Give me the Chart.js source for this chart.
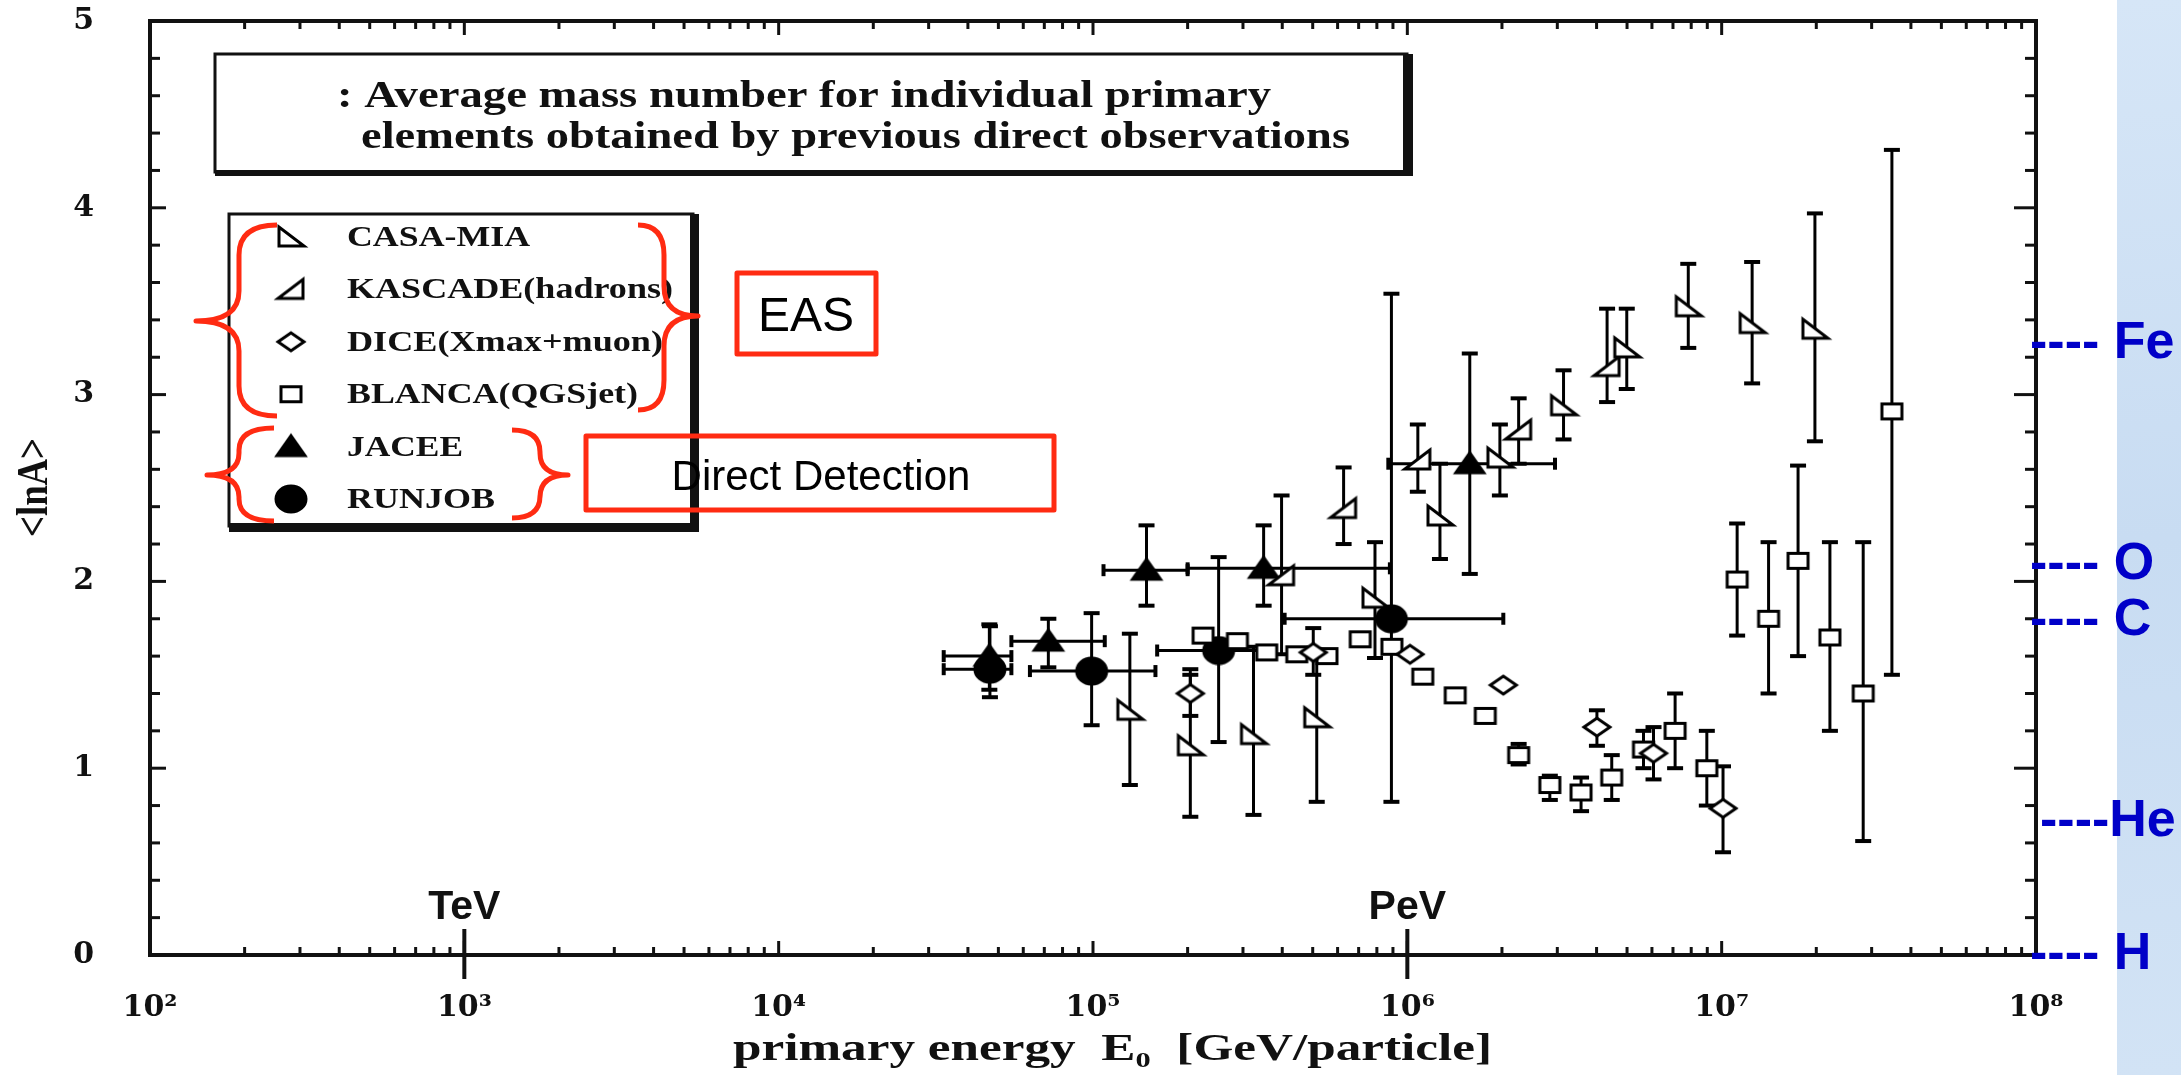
<!DOCTYPE html>
<html lang="en">
<head>
<meta charset="UTF-8">
<title>Average mass number vs primary energy</title>
<style>
  html, body { margin: 0; padding: 0; background: #fff; }
  #wrap { width: 2181px; height: 1075px; position: relative; }
</style>
</head>
<body>
<div id="wrap"><canvas id="myChart"></canvas></div>
<script src="https://cdn.jsdelivr.net/npm/chart.js"></script>
<script>
// energies in GeV/particle, values are <lnA>
const casaE   = [1.31e5, 2.04e5, 3.24e5, 5.15e5, 7.89e5, 1.27e6, 1.97e6, 3.14e6, 4.99e6, 7.83e6, 1.25e7, 1.98e7];
const casaLnA = [1.31, 1.12, 1.18, 1.27, 1.91, 2.35, 2.66, 2.94, 3.25, 3.47, 3.38, 3.35];
const casaLo  = [0.91, 0.74, 0.75, 0.82, 1.59, 2.12, 2.46, 2.76, 3.03, 3.25, 3.06, 2.75];
const casaHi  = [1.72, 1.50, 1.65, 1.62, 2.21, 2.63, 2.84, 3.13, 3.46, 3.70, 3.71, 3.97];

const kascadeE   = [3.98e5, 6.27e5, 1.08e6, 2.26e6, 4.32e6];
const kascadeLnA = [2.03, 2.39, 2.65, 2.81, 3.15];
const kascadeLo  = [1.61, 2.20, 2.48, 2.63, 2.96];
const kascadeHi  = [2.46, 2.61, 2.84, 2.98, 3.46];

const diceE   = [2.04e5, 5.02e5, 1.02e6, 2.02e6, 4.01e6, 6.07e6, 1.01e7];
const diceLnA = [1.40, 1.62, 1.61, 1.445, 1.22, 1.08, 0.785];
const diceLo  = [1.28, 1.50, null, null, 1.12, 0.94, 0.55];
const diceHi  = [1.53, 1.75, null, null, 1.31, 1.22, 1.01];

const blancaE   = [2.24e5, 2.88e5, 3.57e5, 4.45e5, 5.55e5, 7.08e5, 8.93e5, 1.12e6, 1.42e6, 1.77e6, 2.26e6, 2.84e6,
                   3.57e6, 4.47e6, 5.64e6, 7.11e6, 8.97e6, 1.12e7, 1.41e7, 1.75e7, 2.21e7, 2.82e7, 3.48e7];
const blancaLnA = [1.71, 1.68, 1.62, 1.61, 1.60, 1.69, 1.65, 1.49, 1.39, 1.28, 1.07, 0.91,
                   0.87, 0.95, 1.10, 1.20, 1.00, 2.01, 1.80, 2.11, 1.70, 1.40, 2.91];
const blancaLo  = [null, null, null, null, null, null, null, null, null, null, 1.02, 0.83,
                   0.77, 0.83, 1.00, 1.00, 0.80, 1.71, 1.40, 1.60, 1.20, 0.61, 1.50];
const blancaHi  = [null, null, null, null, null, null, null, null, null, null, 1.13, 0.96,
                   0.95, 1.07, 1.20, 1.40, 1.20, 2.31, 2.21, 2.62, 2.21, 2.21, 4.31];

const jaceeE    = [4.68e4, 7.21e4, 1.48e5, 3.49e5, 1.58e6];
const jaceeLnA  = [1.60, 1.68, 2.06, 2.07, 2.63];
const jaceeEMin = [3.35e4, 5.5e4, 1.08e5, 2.0e5, 8.7e5];
const jaceeEMax = [5.5e4, 1.09e5, 2.0e5, 8.8e5, 2.95e6];
const jaceeLo   = [1.42, 1.54, 1.87, 1.87, 2.04];
const jaceeHi   = [1.77, 1.80, 2.30, 2.30, 3.22];

const runjobE    = [4.7e4, 9.9e4, 2.51e5, 8.9e5];
const runjobLnA  = [1.53, 1.52, 1.63, 1.80];
const runjobEMin = [3.35e4, 6.3e4, 1.6e5, 4.07e5];
const runjobEMax = [5.5e4, 1.58e5, 3.8e5, 2.02e6];
const runjobLo   = [1.38, 1.23, 1.14, 0.82];
const runjobHi   = [1.76, 1.83, 2.13, 3.54];

const seriesNames = ['CASA-MIA', 'KASCADE(hadrons)', 'DICE(Xmax+muon)', 'BLANCA(QGSjet)', 'JACEE', 'RUNJOB'];

const elementNames = ['Fe', 'O', 'C', 'He', 'H'];
const elementLnA   = [3.27, 2.09, 1.79, 0.71, 0];

const energyMarks = [1e3, 1e6];
const energyNames = ['TeV', 'PeV'];

const titleLines = [': Average mass number for individual primary',
                    'elements obtained by previous direct observations'];

const SERIF = '"Liberation Serif", "Times New Roman", serif';
const WIDE_SERIF = '"DejaVu Serif", serif';
const SANS = '"Liberation Sans", Arial, sans-serif';
const RED = '#ff2b12';
const BLUE = '#0000c8';

// open / filled marker shapes as small canvases
function marker(kind) {
  const c = document.createElement('canvas');
  c.width = 36; c.height = 30;
  const g = c.getContext('2d');
  const cx = 18, cy = 15;
  g.lineWidth = 3; g.strokeStyle = '#000'; g.fillStyle = '#fff';
  g.beginPath();
  if (kind === 'casa') {
    g.moveTo(cx - 12, cy - 10); g.lineTo(cx - 12, cy + 9); g.lineTo(cx + 13, cy + 9); g.closePath();
  } else if (kind === 'kascade') {
    g.moveTo(cx + 12, cy - 10); g.lineTo(cx + 12, cy + 9); g.lineTo(cx - 13, cy + 9); g.closePath();
  } else if (kind === 'dice') {
    g.moveTo(cx - 13, cy); g.lineTo(cx, cy - 9); g.lineTo(cx + 13, cy); g.lineTo(cx, cy + 9); g.closePath();
  } else if (kind === 'blanca') {
    g.rect(cx - 10, cy - 7.5, 20, 15);
  } else if (kind === 'jacee') {
    g.fillStyle = '#000';
    g.moveTo(cx, cy - 11); g.lineTo(cx + 14, cy + 9); g.lineTo(cx - 14, cy + 9); g.closePath();
  } else {
    g.fillStyle = '#000';
    g.ellipse(cx, cy, 15, 13, 0, 0, Math.PI * 2);
  }
  g.fill();
  g.stroke();
  return c;
}

function pts(e, v, lo, hi, eMin, eMax) {
  return e.map((x, i) => ({
    x: x, y: v[i],
    yMin: lo[i], yMax: hi[i],
    xMin: eMin ? eMin[i] : null, xMax: eMax ? eMax[i] : null
  }));
}

const shapes = ['casa', 'kascade', 'dice', 'blanca', 'jacee', 'runjob'];
const allData = [
  pts(casaE, casaLnA, casaLo, casaHi),
  pts(kascadeE, kascadeLnA, kascadeLo, kascadeHi),
  pts(diceE, diceLnA, diceLo, diceHi),
  pts(blancaE, blancaLnA, blancaLo, blancaHi),
  pts(jaceeE, jaceeLnA, jaceeLo, jaceeHi, jaceeEMin, jaceeEMax),
  pts(runjobE, runjobLnA, runjobLo, runjobHi, runjobEMin, runjobEMax)
];

function line(ctx, x0, y0, x1, y1) {
  ctx.beginPath(); ctx.moveTo(x0, y0); ctx.lineTo(x1, y1); ctx.stroke();
}

// draw text pieces squeezed/stretched to a given width (scanned lettering is wide)
function fitText(ctx, parts, x, y, width) {
  let total = 0;
  parts.forEach(p => { ctx.font = p.font; total += ctx.measureText(p.text).width; });
  ctx.save();
  ctx.translate(x, y);
  ctx.scale(width / total, 1);
  let cx = 0;
  parts.forEach(p => {
    ctx.font = p.font;
    ctx.fillText(p.text, cx, p.dy || 0);
    cx += ctx.measureText(p.text).width;
  });
  ctx.restore();
}

function brace(ctx, xe, xv, xt, y0, ym, y1, r) {
  ctx.beginPath();
  ctx.moveTo(xe, y0);
  ctx.quadraticCurveTo(xv, y0, xv, y0 + r);
  ctx.lineTo(xv, ym - r);
  ctx.quadraticCurveTo(xv, ym, xt, ym);
  ctx.quadraticCurveTo(xv, ym, xv, ym + r);
  ctx.lineTo(xv, y1 - r);
  ctx.quadraticCurveTo(xv, y1, xe, y1);
  ctx.stroke();
}

const sup = ['⁰', '¹', '²', '³', '⁴', '⁵', '⁶', '⁷', '⁸'];

const decorPlugin = {
  id: 'decor',
  beforeDraw(chart) {
    const ctx = chart.ctx;
    ctx.save();
    ctx.fillStyle = '#fff';
    ctx.fillRect(0, 0, chart.width, chart.height);
    const grd = ctx.createLinearGradient(2117, 0, 2181, chart.height);
    grd.addColorStop(0, '#d6e6f7');
    grd.addColorStop(0.5, '#c8dcf2');
    grd.addColorStop(1, '#d2e3f5');
    ctx.fillStyle = grd;
    ctx.fillRect(2117, 0, chart.width - 2117, chart.height);
    ctx.restore();
  },
  beforeDatasetsDraw(chart) {
    const ctx = chart.ctx, xs = chart.scales.x, ys = chart.scales.y;
    ctx.save();
    ctx.strokeStyle = '#000';
    chart.data.datasets.forEach(ds => {
      ds.data.forEach(p => {
        const px = xs.getPixelForValue(p.x), py = ys.getPixelForValue(p.y);
        if (p.yMin != null && p.yMax != null) {
          const y0 = ys.getPixelForValue(p.yMin), y1 = ys.getPixelForValue(p.yMax);
          ctx.lineWidth = 3; line(ctx, px, y0, px, y1);
          ctx.lineWidth = 4;
          line(ctx, px - 8, y0, px + 8, y0);
          line(ctx, px - 8, y1, px + 8, y1);
        }
        if (p.xMin != null && p.xMax != null) {
          const x0 = xs.getPixelForValue(p.xMin), x1 = xs.getPixelForValue(p.xMax);
          ctx.lineWidth = 3; line(ctx, x0, py, x1, py);
          ctx.lineWidth = 4;
          line(ctx, x0, py - 6, x0, py + 6);
          line(ctx, x1, py - 6, x1, py + 6);
        }
      });
    });
    ctx.restore();
  },
  afterDraw(chart) {
    const ctx = chart.ctx, xs = chart.scales.x, ys = chart.scales.y;
    const a = chart.chartArea;
    ctx.save();
    ctx.strokeStyle = '#111';
    ctx.fillStyle = '#111';

    // frame
    ctx.lineWidth = 4;
    ctx.strokeRect(a.left, a.top, a.right - a.left, a.bottom - a.top);

    // inward ticks on all four sides
    ctx.lineWidth = 3;
    for (let d = 2; d < 8; d++) {
      for (let k = 1; k < 10; k++) {
        const px = xs.getPixelForValue(k * Math.pow(10, d));
        const len = k === 1 ? 14 : 8;
        line(ctx, px, a.bottom, px, a.bottom - len);
        line(ctx, px, a.top, px, a.top + len);
      }
    }
    for (let i = 0; i <= 25; i++) {
      const py = ys.getPixelForValue(i / 5);
      const major = i % 5 === 0;
      line(ctx, a.left, py, a.left + (major ? 16 : 10), py);
      line(ctx, a.right, py, a.right - (major ? 22 : 11), py);
    }

    // TeV / PeV markers
    ctx.lineWidth = 4;
    ctx.font = 'bold 41px ' + SANS;
    ctx.textAlign = 'center';
    ctx.textBaseline = 'alphabetic';
    energyMarks.forEach((e, i) => {
      const px = xs.getPixelForValue(e);
      line(ctx, px, a.bottom - 26, px, a.bottom + 24);
      ctx.fillText(energyNames[i], px, a.bottom - 36);
    });

    // title box
    ctx.textAlign = 'left';
    ctx.lineWidth = 3;
    ctx.strokeRect(215, 54, 1192, 118);
    ctx.fillRect(1403, 54, 10, 122);
    ctx.fillRect(215, 170, 1198, 6);
    fitText(ctx, [{ text: titleLines[0], font: 'bold 38px ' + SERIF }], 337, 107, 934);
    fitText(ctx, [{ text: titleLines[1], font: 'bold 38px ' + SERIF }], 361, 148, 989);

    // legend box
    ctx.lineWidth = 3;
    ctx.strokeRect(229, 214, 464, 312);
    ctx.fillRect(690, 214, 9, 318);
    ctx.fillRect(229, 523, 470, 9);
    const legendWidths = [183, 326, 316, 291, 116, 148];
    chart.data.datasets.forEach((ds, i) => {
      const base = 246 + i * 52.4;
      const img = ds.pointStyle;
      ctx.drawImage(img, 291 - img.width / 2, base - 9 - img.height / 2);
      fitText(ctx, [{ text: ds.label, font: 'bold 29px ' + SERIF }], 347, base, legendWidths[i]);
    });

    // axis titles
    fitText(ctx, [
      { text: 'primary energy  E', font: 'bold 37px ' + SERIF },
      { text: '0', font: 'bold 22px ' + SERIF, dy: 7 },
      { text: '  [GeV/particle]', font: 'bold 37px ' + SERIF }
    ], 733, 1060, 759);
    ctx.save();
    ctx.translate(47, 537);
    ctx.rotate(-Math.PI / 2);
    fitText(ctx, [{ text: '<lnA>', font: 'bold 44px ' + SERIF }], 0, 0, 99);
    ctx.restore();

    // red annotations
    ctx.strokeStyle = RED;
    ctx.fillStyle = '#000';
    ctx.lineWidth = 5;
    ctx.lineJoin = 'round';
    ctx.strokeRect(737, 273, 139, 81);
    ctx.strokeRect(586, 436, 468, 74);
    brace(ctx, 277, 239, 196, 225, 321, 416, 30);
    brace(ctx, 638, 664, 698, 225, 316, 410, 30);
    brace(ctx, 274, 239, 207, 428, 475, 521, 22);
    brace(ctx, 512, 540, 568, 430, 475, 518, 22);
    ctx.textAlign = 'center';
    ctx.font = '48px ' + SANS;
    ctx.fillText('EAS', 806, 331);
    ctx.font = '42px ' + SANS;
    ctx.fillText('Direct Detection', 821, 490);

    // element reference marks on the right
    ctx.textAlign = 'left';
    ctx.fillStyle = BLUE;
    ctx.font = 'bold 52px ' + SANS;
    elementNames.forEach((n, i) => {
      const py = ys.getPixelForValue(elementLnA[i]);
      const txt = n === 'He' ? '----He' : '---- ' + n;
      ctx.fillText(txt, n === 'He' ? a.right + 4 : a.right - 6, py + 14);
    });
    ctx.restore();
  }
};

const ctx = document.getElementById('myChart');
new Chart(ctx, {
  type: 'scatter',
  data: {
    datasets: seriesNames.map((name, i) => ({
      label: name,
      data: allData[i],
      pointStyle: marker(shapes[i]),
      pointRadius: 12,
      showLine: false
    }))
  },
  options: {
    responsive: true,
    maintainAspectRatio: false,
    animation: false,
    layout: { padding: { top: 21, right: 145, left: 0, bottom: 0 } },
    plugins: { legend: { display: false }, tooltip: { enabled: false } },
    scales: {
      x: {
        type: 'logarithmic',
        min: 1e2,
        max: 1e8,
        grid: { display: false },
        border: { display: false },
        ticks: {
          autoSkip: false,
          maxRotation: 0,
          padding: 27,
          color: '#111',
          font: { family: WIDE_SERIF, weight: 'bold', size: 30 },
          callback: v => {
            const l = Math.log10(v);
            return Math.abs(l - Math.round(l)) < 1e-9 ? '10' + sup[Math.round(l)] : '';
          }
        },
        afterFit: s => { s.height = 120; s.paddingLeft = 0; s.paddingRight = 0; }
      },
      y: {
        min: 0,
        max: 5,
        grid: { display: false },
        border: { display: false },
        ticks: {
          stepSize: 1,
          padding: 48,
          color: '#111',
          font: { family: WIDE_SERIF, weight: 'bold', size: 30 }
        },
        afterFit: s => { s.width = 150; s.paddingTop = 0; s.paddingBottom = 0; }
      }
    }
  },
  plugins: [decorPlugin]
});
</script>
</body>
</html>
